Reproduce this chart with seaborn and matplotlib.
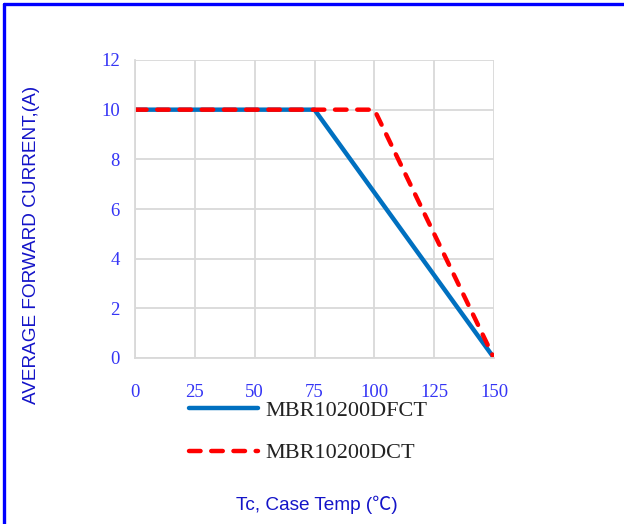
import pandas as pd
import seaborn as sns
import matplotlib.pyplot as plt
from matplotlib.lines import Line2D

# derating curve data
temp_dfct = [0, 75, 150]
current_dfct = [10, 10, 0]
temp_dct = [0, 100, 150]
current_dct = [10, 10, 0]
labels = ['MBR10200DFCT', 'MBR10200DCT']
x_ticks = [0, 25, 50, 75, 100, 125, 150]
y_ticks = [0, 2, 4, 6, 8, 10, 12]

blue = '#0070C0'
red = '#FF0000'
grid_col = '#D9D9D9'
tick_col = '#3535F5'
label_col = '#1414C8'

sns.set_theme(style='whitegrid')
plt.rcParams['font.family'] = ['Liberation Sans', 'Noto Sans CJK SC']

df1 = pd.DataFrame({'temp': temp_dfct, 'current': current_dfct})
df2 = pd.DataFrame({'temp': temp_dct, 'current': current_dct})

fig = plt.figure(figsize=(6.24, 5.24), dpi=100)
ax = fig.add_axes([135 / 624, 1 - 358 / 524, 359 / 624, 298 / 524])

sns.lineplot(data=df1, x='temp', y='current', ax=ax, color=blue, linewidth=3.2,
             solid_capstyle='butt')
sns.lineplot(data=df2, x='temp', y='current', ax=ax, color=red, linewidth=3.2,
             dashes=False, linestyle=(0, (2.6, 2.4)), dash_capstyle='round')

ax.set_xlim(0, 150)
ax.set_ylim(0, 12)
ax.set_xticks(x_ticks)
ax.set_yticks(y_ticks)
ax.set_xlabel('')
ax.set_ylabel('')
ax.grid(True, color=grid_col, linewidth=1.3)
for s in ['top', 'right']:
    ax.spines[s].set_visible(False)
for s in ['left', 'bottom']:
    ax.spines[s].set_color(grid_col)
    ax.spines[s].set_linewidth(1.3)
ax.tick_params(axis='both', length=0, labelcolor=tick_col, labelsize=13.5)
ax.tick_params(axis='x', pad=19)
ax.tick_params(axis='y', pad=11)
for t in ax.get_xticklabels() + ax.get_yticklabels():
    t.set_family('Liberation Serif')

# legend below the plot
handles = [Line2D([], [], color=blue, linewidth=3.2, solid_capstyle='round'),
           Line2D([], [], color=red, linewidth=3.2, linestyle=(0, (2.6, 2.4)),
                  dash_capstyle='round')]
leg = fig.legend(handles, labels, loc='upper left', bbox_to_anchor=(189 / 624, 1 - 400 / 524),
                 frameon=False, prop={'family': 'Liberation Serif', 'size': 16},
                 handlelength=3.1, handletextpad=0.32, labelspacing=1.0, borderpad=0,
                 borderaxespad=0)
for t in leg.get_texts():
    t.set_color('#222222')

fig.text(32 / 624, 1 - 245 / 524, 'AVERAGE FORWARD CURRENT,(A)', rotation=90,
         ha='center', va='center', color=label_col, fontsize=13.7)
fig.text(317 / 624, 1 - 505 / 524, 'Tc, Case Temp (℃)', ha='center', va='center',
         color=label_col, fontsize=13.7)

# blue frame on the left and top edges
fig.add_artist(Line2D([3.5 / 624, 3.5 / 624], [0, 1 - 3.5 / 524], color='#0000FF',
                      linewidth=2.4, transform=fig.transFigure))
fig.add_artist(Line2D([3.5 / 624, 1], [1 - 3.5 / 524, 1 - 3.5 / 524], color='#0000FF',
                      linewidth=2.4, transform=fig.transFigure))

fig.savefig('out.png', dpi=100)
